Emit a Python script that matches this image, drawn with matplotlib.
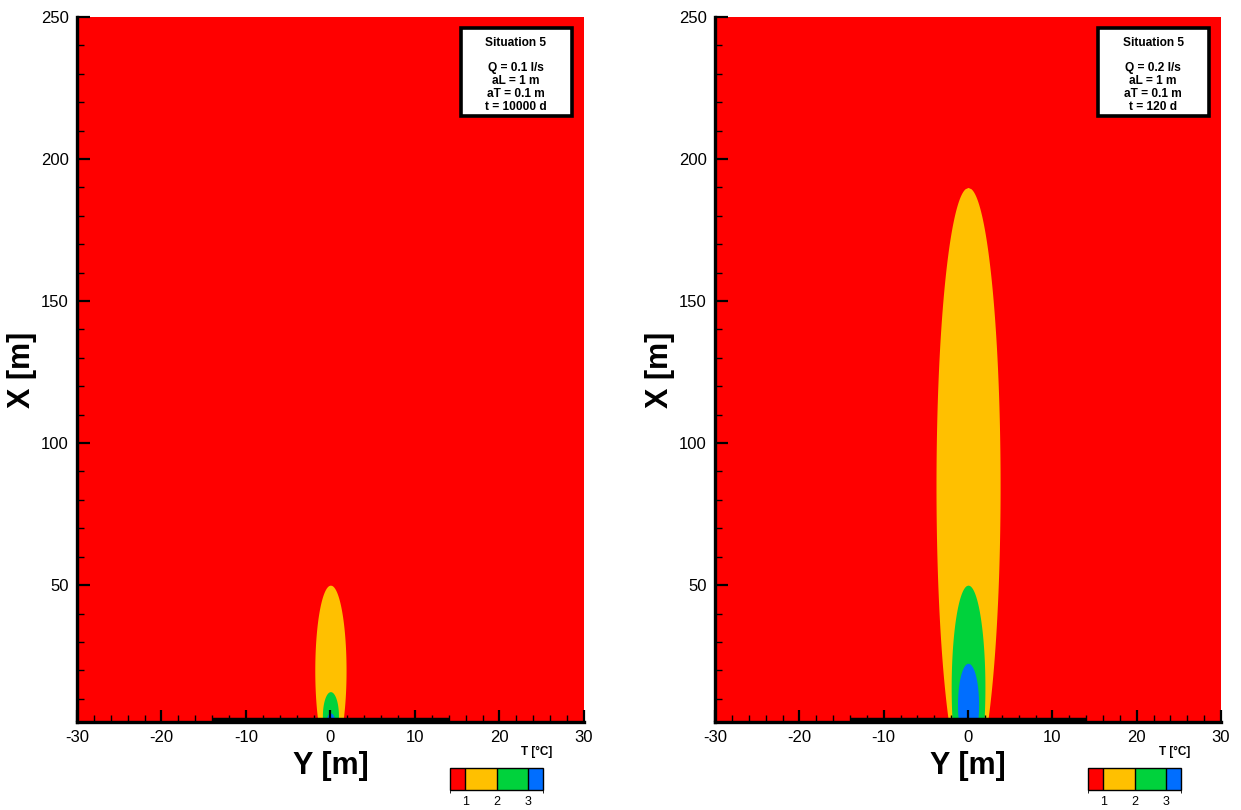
import numpy as np
import matplotlib
matplotlib.use("Agg")
import matplotlib.pyplot as plt
from matplotlib.colors import ListedColormap, BoundaryNorm
from matplotlib.patches import Rectangle
from matplotlib.cm import ScalarMappable

plt.rcParams['font.family'] = ['Liberation Sans', 'DejaVu Sans']
plt.rcParams['axes.unicode_minus'] = False

# temperature classes
level_colors = ['#ff0000', '#ffc000', '#00d23c', '#006eff']
level_bounds = [0.5, 1, 2, 3, 3.5]
level_ticks = [1, 2, 3]

# plume outlines per temperature level (yellow, green, blue):
# top of plume [m], x of widest point [m], max half width [m]
left_top = [50, 12.5, 5]
left_xc = [20, 4, 2]
left_halfw = [1.85, 0.95, 0.5]

right_top = [190, 50, 22.5]
right_xc = [85, 14, 8]
right_halfw = [3.8, 2.0, 1.25]

info_left = ['Q = 0.1 l/s', 'aL = 1 m', 'aT = 0.1 m', 't = 10000 d']
info_right = ['Q = 0.2 l/s', 'aL = 1 m', 'aT = 0.1 m', 't = 120 d']

# source line at the bottom
source_y = [-14, 14]

xmin_plot = 1.8
xmax_plot = 250


def draw_panel(fig, rect, tops, xcs, halfws, info, cbar_rect):
    ax = fig.add_axes(rect)
    ax.set_facecolor(level_colors[0])
    for top, xc, b, col in zip(tops, xcs, halfws, level_colors[1:]):
        a = top - xc
        x = np.linspace(xmin_plot, top, 400)
        w = b * np.sqrt(np.clip(1 - ((x - xc) / a) ** 2, 0, None))
        ax.fill_betweenx(x, -w, w, color=col, lw=0)

    ax.plot(source_y, [xmin_plot + 0.6, xmin_plot + 0.6], color='black',
            lw=3.2, solid_capstyle='butt', clip_on=False, zorder=5)

    ax.set_xlim(-30, 30)
    ax.set_ylim(xmin_plot, xmax_plot)
    ax.set_xticks(np.arange(-30, 31, 10))
    ax.set_xticks(np.arange(-30, 31, 2), minor=True)
    ax.set_yticks([50, 100, 150, 200, 250])
    ax.set_yticks(np.arange(10, 251, 10), minor=True)
    ax.spines['top'].set_visible(False)
    ax.spines['right'].set_visible(False)
    for s in ['left', 'bottom']:
        ax.spines[s].set_linewidth(2.4)
        ax.spines[s].set_zorder(6)
    ax.tick_params(which='major', direction='in', length=9, width=1.6,
                   labelsize=12, pad=6)
    ax.tick_params(which='minor', direction='in', length=5, width=1.0)
    ax.set_xlabel('Y [m]', fontsize=22, fontweight='bold', labelpad=4)
    ax.set_ylabel('X [m]', fontsize=22, fontweight='bold', labelpad=3)

    # info box
    ax.add_patch(Rectangle((0.757, 0.86), 0.219, 0.124, transform=ax.transAxes,
                           facecolor='white', edgecolor='black', lw=2.6,
                           zorder=7))
    txt = 'Situation 5\n\n' + '\n'.join(info)
    ax.text(0.866, 0.918, txt, transform=ax.transAxes, ha='center',
            va='center', fontsize=8.6, fontweight='bold', linespacing=1.1,
            zorder=8)

    # colour legend
    cax = fig.add_axes(cbar_rect)
    cmap = ListedColormap(level_colors)
    norm = BoundaryNorm(level_bounds, cmap.N)
    cb = fig.colorbar(ScalarMappable(norm=norm, cmap=cmap), cax=cax,
                      orientation='horizontal', ticks=level_ticks,
                      spacing='proportional', drawedges=True)
    cb.outline.set_linewidth(1.0)
    cb.dividers.set_linewidth(1.0)
    cax.tick_params(length=0, labelsize=9, pad=4)
    cax.text(0.93, 1.73, 'T [°C]', transform=cax.transAxes, ha='center',
             va='center', fontsize=8.5, fontweight='bold')
    return ax


fig = plt.figure(figsize=(12.41, 8.10), dpi=100)

draw_panel(fig, [0.062, 0.1086, 0.4085, 0.8704], left_top, left_xc,
           left_halfw, info_left, [0.3626, 0.0247, 0.0750, 0.0272])
draw_panel(fig, [0.5762, 0.1086, 0.4077, 0.8704], right_top, right_xc,
           right_halfw, info_right, [0.8767, 0.0247, 0.0750, 0.0272])

fig.savefig('out.png', dpi=100)
